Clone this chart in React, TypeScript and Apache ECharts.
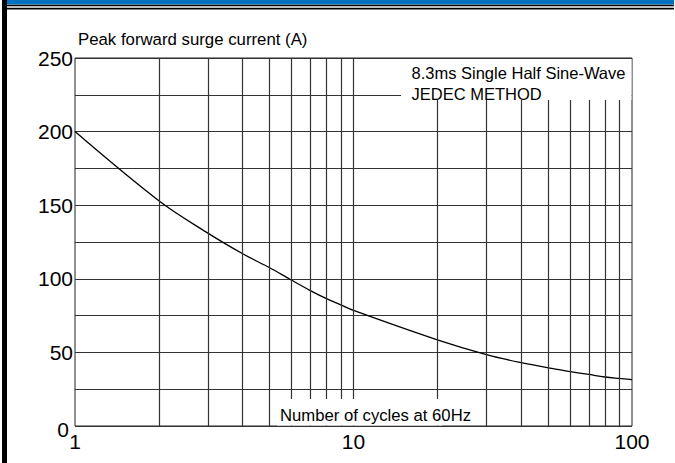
import React, { useEffect, useRef } from "react";
import * as echarts from "echarts";

// Number of cycles (log axis) and peak forward surge current (A)
const cycles = [1, 2, 3, 4, 5, 6, 7, 8, 9, 10, 20, 30, 40, 50, 60, 70, 80, 90, 100];
const surgeCurrent = [200, 153, 131, 117, 107.5, 99, 92, 86.5, 82.3, 78.5, 58.5, 48.5, 43, 39.5, 37, 35, 33.3, 32.3, 31.5];
// vertical grid lines of the log paper
const gridCycles = [2, 3, 4, 5, 6, 7, 8, 9, 10, 20, 30, 40, 50, 60, 70, 80, 90];
const yLabelStep = 50;
const yAxisTitle = "Peak forward surge current (A)";
const xAxisTitle = "Number of cycles at 60Hz";
const noteLines = ["8.3ms Single Half Sine-Wave", "JEDEC METHOD"];

const FONT = '"Liberation Sans", Arial, Helvetica, sans-serif';
const GRID_COLOR = "#333";

export default function App() {
  const ref = useRef<HTMLDivElement>(null);

  useEffect(() => {
    document.body.style.margin = "0";
    document.body.style.overflow = "hidden";
    if (!ref.current) return;
    const chart = echarts.init(ref.current, undefined, { renderer: "svg" });

    const option: any = {
      animation: false,
      backgroundColor: "#fff",
      grid: {
        left: 75,
        top: 58,
        width: 557,
        height: 368,
        show: true,
        borderColor: "#222",
        borderWidth: 1,
      },
      xAxis: {
        type: "log",
        logBase: 10,
        min: 1,
        max: 100,
        axisLine: { show: false },
        axisTick: { show: false },
        splitLine: { show: false },
        axisLabel: { fontSize: 21, color: "#000", fontFamily: FONT, margin: 5 },
      },
      yAxis: {
        type: "value",
        min: 0,
        max: 250,
        interval: 25,
        name: yAxisTitle,
        nameLocation: "end",
        nameGap: 16,
        nameTextStyle: {
          fontSize: 16.8,
          color: "#000",
          fontFamily: FONT,
          align: "left",
          verticalAlign: "middle",
          padding: [0, 0, 0, 3],
        },
        axisLine: { show: false },
        axisTick: { show: false },
        splitLine: { show: true, lineStyle: { color: GRID_COLOR, width: 1.2 } },
        axisLabel: {
          fontSize: 21,
          color: "#000",
          fontFamily: FONT,
          margin: 2,
          formatter: (v: number) =>
            v % yLabelStep !== 0 ? "" : v === 0 ? "{z|0}" : String(v),
          rich: {
            z: { fontSize: 21, color: "#000", fontFamily: FONT, padding: [6, 4, 0, 0] },
          },
        },
      },
      series: [
        {
          type: "line",
          data: cycles.map((c, i) => [c, surgeCurrent[i]]),
          smooth: 0.35,
          symbol: "none",
          lineStyle: { color: "#000", width: 1.3 },
          markLine: {
            silent: true,
            symbol: ["none", "none"],
            label: { show: false },
            lineStyle: { type: "solid", color: GRID_COLOR, width: 1.2 },
            data: gridCycles.map((c) => ({ xAxis: c })),
          },
        },
      ],
      graphic: [
        // page frame
        { type: "rect", z: 100, shape: { x: 2, y: 0, width: 5, height: 463 }, style: { fill: "#000" } },
        { type: "rect", z: 100, shape: { x: 7, y: 0, width: 667, height: 4.5 }, style: { fill: "#0070C0" } },
        { type: "rect", z: 100, shape: { x: 2, y: 4.7, width: 672, height: 1.6 }, style: { fill: "#000" } },
        { type: "rect", z: 100, shape: { x: 2, y: 7.8, width: 672, height: 1.6 }, style: { fill: "#000" } },
        // white label boxes on the grid
        { type: "rect", z: 100, shape: { x: 401, y: 59, width: 230.5, height: 41 }, style: { fill: "#fff" } },
        { type: "rect", z: 100, shape: { x: 277, y: 399, width: 165, height: 26.5 }, style: { fill: "#fff" } },
        {
          type: "text",
          z: 101,
          x: 411.5,
          y: 73,
          style: { text: noteLines[0], fontSize: 16.5, fontFamily: FONT, fill: "#000", align: "left", verticalAlign: "middle" },
        },
        {
          type: "text",
          z: 101,
          x: 411.5,
          y: 93.5,
          style: { text: noteLines[1], fontSize: 16.5, fontFamily: FONT, fill: "#000", align: "left", verticalAlign: "middle" },
        },
        {
          type: "text",
          z: 101,
          x: 280,
          y: 415,
          style: { text: xAxisTitle, fontSize: 16.7, fontFamily: FONT, fill: "#000", align: "left", verticalAlign: "middle" },
        },
      ],
    };

    chart.setOption(option);
    return () => chart.dispose();
  }, []);

  return (
    <div
      ref={ref}
      style={{ position: "absolute", left: 0, top: 0, width: 675, height: 463, overflow: "hidden", background: "#fff" }}
    />
  );
}
